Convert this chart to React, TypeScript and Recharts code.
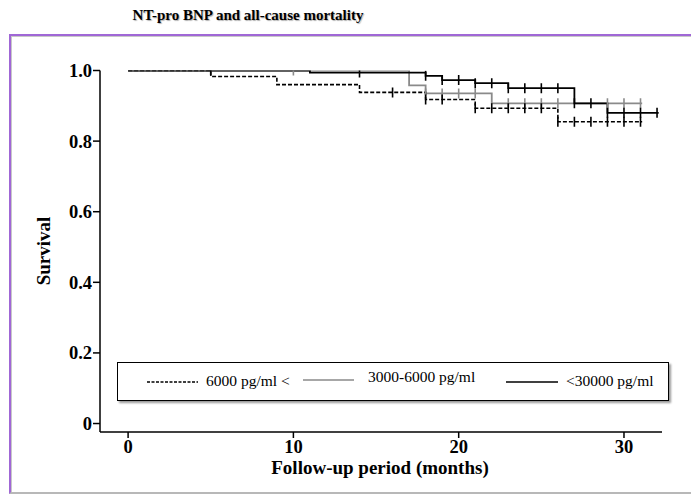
import { ComposedChart, Line, Scatter, XAxis, YAxis } from "recharts";

// step points of the three Kaplan-Meier curves (months, survival)
const dashedTimes = [0, 5, 9, 14, 18, 21, 26, 31.1];
const dashedSurv = [1.0, 0.983, 0.96, 0.938, 0.918, 0.893, 0.855, 0.855];
const grayTimes = [0, 17, 18, 22, 31.1];
const graySurv = [1.0, 0.958, 0.935, 0.907, 0.907];
const blackTimes = [0, 11, 18, 19, 21, 23, 27, 29, 32.1];
const blackSurv = [1.0, 0.994, 0.985, 0.973, 0.964, 0.95, 0.907, 0.88, 0.88];

// censored cases (+ marks)
const dashedCensT = [5, 16, 18, 19, 21, 22, 23, 24, 25, 26, 27, 28, 29, 30, 31];
const dashedCensS = [1.0, 0.938, 0.918, 0.918, 0.893, 0.893, 0.893, 0.893, 0.893, 0.855, 0.855, 0.855, 0.855, 0.855, 0.855];
const grayCensT = [10, 18, 19, 20, 21, 23, 24, 25, 26, 29, 30, 31];
const grayCensS = [1.0, 0.935, 0.935, 0.935, 0.935, 0.907, 0.907, 0.907, 0.907, 0.907, 0.907, 0.907];
const blackCensT = [14, 18, 19, 20, 21, 22, 23, 24, 25, 26, 27, 28, 29, 30, 31, 32];
const blackCensS = [0.994, 0.985, 0.973, 0.973, 0.964, 0.964, 0.95, 0.95, 0.95, 0.95, 0.907, 0.907, 0.88, 0.88, 0.88, 0.88];

const xTicks = [0, 10, 20, 30];
const yTicks = [0, 0.2, 0.4, 0.6, 0.8, 1.0];

const zip = (xs: number[], ys: number[]) => xs.map((x, i) => ({ x, y: ys[i] }));

const dashedData = zip(dashedTimes, dashedSurv);
const grayData = zip(grayTimes, graySurv);
const blackData = zip(blackTimes, blackSurv);

const GRAY = "#8a8a8a";
const FONT = "'Liberation Serif', 'Times New Roman', serif";

const tickStyle = { fill: "#000", fontSize: 18.5, fontWeight: 700, fontFamily: FONT };

function censorMark(color: string) {
  return (props: any) => {
    const { cx, cy } = props;
    return <line x1={cx} x2={cx} y1={cy - 5} y2={cy + 5} stroke={color} strokeWidth={1.6} />;
  };
}

function LegendBox() {
  const txt = { position: "absolute" as const, fontFamily: FONT, fontSize: 15.5, color: "#000", whiteSpace: "nowrap" as const };
  return (
    <div
      style={{
        position: "absolute",
        left: 117,
        top: 362,
        width: 550,
        height: 37,
        border: "1px solid #000",
        background: "#fff",
        boxShadow: "2px 2px 2px #9a9a9a",
      }}
    >
      <svg width={550} height={37} style={{ position: "absolute", left: 0, top: 0 }}>
        <line x1={29} x2={80} y1={19} y2={19} stroke="#000" strokeWidth={1.3} strokeDasharray="3 1.5" />
        <line x1={185} x2={236} y1={17} y2={17} stroke={GRAY} strokeWidth={1.3} />
        <line x1={388} x2={440} y1={19} y2={19} stroke="#000" strokeWidth={1.5} />
      </svg>
      <span style={{ ...txt, left: 88, top: 9 }}>6000 pg/ml &lt;</span>
      <span style={{ ...txt, left: 250, top: 5 }}>3000-6000 pg/ml</span>
      <span style={{ ...txt, left: 448, top: 9 }}>&lt;30000 pg/ml</span>
    </div>
  );
}

export default function App() {
  return (
    <div style={{ position: "relative", width: 691, height: 495, background: "#fff", overflow: "hidden" }}>
      <style>{`body{margin:0}`}</style>
      <div
        style={{
          position: "absolute",
          left: 0,
          width: 496,
          top: 7,
          textAlign: "center",
          fontFamily: FONT,
          fontWeight: 700,
          fontSize: 15,
          textShadow: "1px 1px 1px #b0b0b0",
        }}
      >
        NT-pro BNP and all-cause mortality
      </div>
      {/* panel frame */}
      <div
        style={{
          position: "absolute",
          left: 9,
          top: 34,
          width: 700,
          height: 456,
          borderTop: "2px solid #a067d6",
          borderLeft: "2px solid #a067d6",
          borderBottom: "2px solid #b8b8b8",
          boxShadow: "inset 1px 1px 0 #c8c8c8",
        }}
      />
      <div style={{ position: "absolute", left: 0, top: 0 }}>
        <ComposedChart width={691} height={495} margin={{ top: 70.5, right: 29, bottom: 0, left: 60 }}>
          <XAxis
            dataKey="x"
            type="number"
            domain={[-1.7, 32.3]}
            ticks={xTicks}
            allowDataOverflow
            height={63}
            tick={tickStyle}
            tickSize={6}
            tickMargin={2}
            axisLine={{ stroke: "#000", strokeWidth: 1.5 }}
            tickLine={{ stroke: "#000", strokeWidth: 1.5 }}
          />
          <YAxis
            dataKey="y"
            type="number"
            domain={[-0.024, 1.0]}
            ticks={yTicks}
            allowDataOverflow
            width={40}
            tick={tickStyle}
            tickSize={7}
            tickMargin={1}
            tickFormatter={(v: number) => (v === 0 ? "0" : v.toFixed(1))}
            axisLine={{ stroke: "#000", strokeWidth: 1.5 }}
            tickLine={{ stroke: "#000", strokeWidth: 1.5 }}
          />
          <Line
            data={grayData}
            dataKey="y"
            type="stepAfter"
            stroke={GRAY}
            strokeWidth={1.8}
            dot={false}
            activeDot={false}
            isAnimationActive={false}
          />
          <Line
            data={dashedData}
            dataKey="y"
            type="stepAfter"
            stroke="#000"
            strokeWidth={1.6}
            strokeDasharray="4 2"
            dot={false}
            activeDot={false}
            isAnimationActive={false}
          />
          <Line
            data={blackData}
            dataKey="y"
            type="stepAfter"
            stroke="#000"
            strokeWidth={1.8}
            dot={false}
            activeDot={false}
            isAnimationActive={false}
          />
          <Scatter data={zip(grayCensT, grayCensS)} dataKey="y" shape={censorMark(GRAY)} isAnimationActive={false} />
          <Scatter data={zip(dashedCensT, dashedCensS)} dataKey="y" shape={censorMark("#000")} isAnimationActive={false} />
          <Scatter data={zip(blackCensT, blackCensS)} dataKey="y" shape={censorMark("#000")} isAnimationActive={false} />
        </ComposedChart>
      </div>
      <LegendBox />
      <div
        style={{
          position: "absolute",
          left: 44,
          top: 251,
          transform: "translate(-50%, -50%) rotate(-90deg)",
          fontFamily: FONT,
          fontWeight: 700,
          fontSize: 19,
          whiteSpace: "nowrap",
        }}
      >
        Survival
      </div>
      <div
        style={{
          position: "absolute",
          left: 380,
          top: 468,
          transform: "translate(-50%, -50%)",
          fontFamily: FONT,
          fontWeight: 700,
          fontSize: 19,
          whiteSpace: "nowrap",
        }}
      >
        Follow-up period (months)
      </div>
    </div>
  );
}
